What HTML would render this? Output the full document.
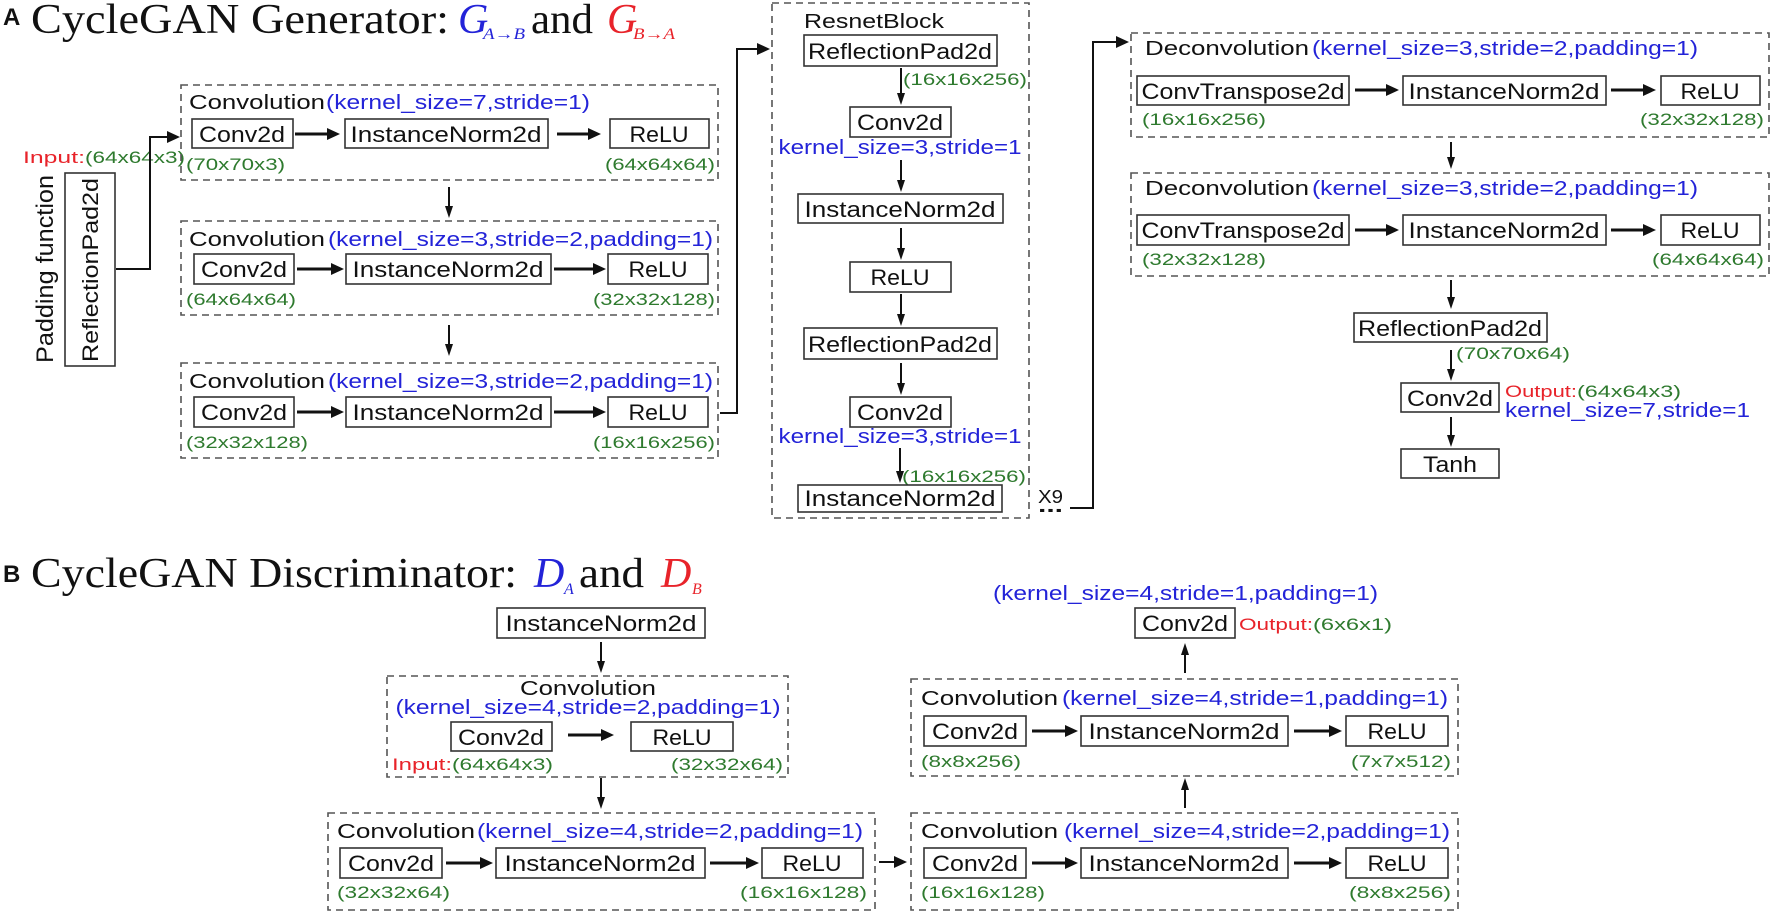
<!DOCTYPE html>
<html><head><meta charset="utf-8"><style>
html,body{margin:0;padding:0;background:#fff;}
svg{display:block;}
.s{font-family:"Liberation Sans","DejaVu Sans",sans-serif;}
.t{font-family:"Liberation Serif",serif;}
.bx{fill:#fff;stroke:#333;stroke-width:1.6;}
.ds{fill:none;stroke:#555;stroke-width:1.6;stroke-dasharray:7,5;}
.ln{stroke:#111;stroke-width:2;fill:none;}
.th{stroke:#111;stroke-width:3;}
.bk{fill:#111;font-size:22px;}
.lb{fill:#111;font-size:20px;}
.bl{fill:#2323d8;font-size:20px;}
.gr{fill:#2e7a2e;font-size:17px;}
.rd{fill:#e8232a;font-size:17px;}
</style></head><body>
<svg width="1772" height="913" viewBox="0 0 1772 913" xmlns="http://www.w3.org/2000/svg">
<defs>
<g id="ah"><polygon points="0,0 -13,-6 -13,6" fill="#111"/></g>
</defs>

<!-- Title A -->
<text x="3" y="25" class="s" font-size="24" font-weight="bold" fill="#111">A</text>
<text x="31" y="33" class="t" font-size="42" fill="#111" textLength="418" lengthAdjust="spacingAndGlyphs">CycleGAN Generator:</text>
<text x="458" y="33" class="t" font-size="42" font-style="italic" fill="#2323d8">G</text>
<text x="483" y="39" class="t" font-size="16" font-style="italic" fill="#2323d8" textLength="42" lengthAdjust="spacingAndGlyphs">A→B</text>
<text x="531" y="33" class="t" font-size="42" fill="#111" textLength="62" lengthAdjust="spacingAndGlyphs">and</text>
<text x="607" y="33" class="t" font-size="42" font-style="italic" fill="#e8232a">G</text>
<text x="633" y="39" class="t" font-size="16" font-style="italic" fill="#e8232a" textLength="42" lengthAdjust="spacingAndGlyphs">B→A</text>

<!-- Padding function -->
<text transform="translate(53,269) rotate(-90)" text-anchor="middle" class="s" font-size="24" fill="#111" textLength="188" lengthAdjust="spacingAndGlyphs">Padding function</text>
<rect x="65" y="173" width="50" height="193" class="bx"/>
<text transform="translate(98,270) rotate(-90)" text-anchor="middle" class="s bk" textLength="184" lengthAdjust="spacingAndGlyphs">ReflectionPad2d</text>
<text x="23" y="163" class="s rd" textLength="62" lengthAdjust="spacingAndGlyphs">Input:</text>
<text x="85" y="163" class="s gr" textLength="100" lengthAdjust="spacingAndGlyphs">(64x64x3)</text>
<polyline points="116,269 150,269 150,137 168,137" class="ln"/>
<use href="#ah" x="180" y="137"/>

<!-- G1 -->
<rect x="181" y="85" width="537" height="95" class="ds"/>
<text x="189" y="109" class="s lb" textLength="136" lengthAdjust="spacingAndGlyphs">Convolution</text>
<text x="326" y="109" class="s bl" textLength="264" lengthAdjust="spacingAndGlyphs">(kernel_size=7,stride=1)</text>
<rect x="192" y="119" width="101" height="29" class="bx"/><text x="242" y="142" text-anchor="middle" class="s bk" textLength="86" lengthAdjust="spacingAndGlyphs">Conv2d</text>
<rect x="345" y="119" width="203" height="29" class="bx"/><text x="446" y="142" text-anchor="middle" class="s bk" textLength="191" lengthAdjust="spacingAndGlyphs">InstanceNorm2d</text>
<rect x="610" y="119" width="99" height="29" class="bx"/><text x="659" y="142" text-anchor="middle" class="s bk" textLength="59" lengthAdjust="spacingAndGlyphs">ReLU</text>
<line x1="295" y1="134" x2="330" y2="134" class="th"/><use href="#ah" x="340" y="134"/>
<line x1="557" y1="134" x2="591" y2="134" class="th"/><use href="#ah" x="601" y="134"/>
<text x="186" y="170" class="s gr" textLength="99" lengthAdjust="spacingAndGlyphs">(70x70x3)</text>
<text x="715" y="170" text-anchor="end" class="s gr" textLength="110" lengthAdjust="spacingAndGlyphs">(64x64x64)</text>
<line x1="449" y1="187" x2="449" y2="209" class="ln" stroke-width="1.6"/><polygon points="449,218 445,206 453,206" fill="#111"/>

<!-- G2 -->
<rect x="181" y="221" width="537" height="94" class="ds"/>
<text x="189" y="246" class="s lb" textLength="136" lengthAdjust="spacingAndGlyphs">Convolution</text>
<text x="328" y="246" class="s bl" textLength="385" lengthAdjust="spacingAndGlyphs">(kernel_size=3,stride=2,padding=1)</text>
<rect x="194" y="254" width="100" height="30" class="bx"/><text x="244" y="277" text-anchor="middle" class="s bk" textLength="86" lengthAdjust="spacingAndGlyphs">Conv2d</text>
<rect x="346" y="254" width="205" height="30" class="bx"/><text x="448" y="277" text-anchor="middle" class="s bk" textLength="191" lengthAdjust="spacingAndGlyphs">InstanceNorm2d</text>
<rect x="608" y="254" width="100" height="30" class="bx"/><text x="658" y="277" text-anchor="middle" class="s bk" textLength="59" lengthAdjust="spacingAndGlyphs">ReLU</text>
<line x1="297" y1="269" x2="333" y2="269" class="th"/><use href="#ah" x="344" y="269"/>
<line x1="554" y1="269" x2="595" y2="269" class="th"/><use href="#ah" x="606" y="269"/>
<text x="186" y="305" class="s gr" textLength="110" lengthAdjust="spacingAndGlyphs">(64x64x64)</text>
<text x="715" y="305" text-anchor="end" class="s gr" textLength="122" lengthAdjust="spacingAndGlyphs">(32x32x128)</text>
<line x1="449" y1="325" x2="449" y2="347" class="ln" stroke-width="1.6"/><polygon points="449,356 445,344 453,344" fill="#111"/>

<!-- G3 -->
<rect x="181" y="363" width="537" height="95" class="ds"/>
<text x="189" y="388" class="s lb" textLength="136" lengthAdjust="spacingAndGlyphs">Convolution</text>
<text x="328" y="388" class="s bl" textLength="385" lengthAdjust="spacingAndGlyphs">(kernel_size=3,stride=2,padding=1)</text>
<rect x="194" y="397" width="100" height="30" class="bx"/><text x="244" y="420" text-anchor="middle" class="s bk" textLength="86" lengthAdjust="spacingAndGlyphs">Conv2d</text>
<rect x="346" y="397" width="205" height="30" class="bx"/><text x="448" y="420" text-anchor="middle" class="s bk" textLength="191" lengthAdjust="spacingAndGlyphs">InstanceNorm2d</text>
<rect x="608" y="397" width="100" height="30" class="bx"/><text x="658" y="420" text-anchor="middle" class="s bk" textLength="59" lengthAdjust="spacingAndGlyphs">ReLU</text>
<line x1="297" y1="412" x2="333" y2="412" class="th"/><use href="#ah" x="344" y="412"/>
<line x1="554" y1="412" x2="595" y2="412" class="th"/><use href="#ah" x="606" y="412"/>
<text x="186" y="448" class="s gr" textLength="122" lengthAdjust="spacingAndGlyphs">(32x32x128)</text>
<text x="715" y="448" text-anchor="end" class="s gr" textLength="122" lengthAdjust="spacingAndGlyphs">(16x16x256)</text>
<polyline points="720,413 737,413 737,49 758,49" class="ln"/><use href="#ah" x="770" y="49"/>

<!-- Resnet -->
<rect x="772" y="3" width="257" height="515" class="ds"/>
<text x="804" y="28" class="s lb" textLength="140" lengthAdjust="spacingAndGlyphs">ResnetBlock</text>
<rect x="804" y="35" width="193" height="31" class="bx"/><text x="900" y="59" text-anchor="middle" class="s bk" textLength="184" lengthAdjust="spacingAndGlyphs">ReflectionPad2d</text>
<line x1="901" y1="68" x2="901" y2="96" class="ln" stroke-width="1.6"/><polygon points="901,105 897,93 905,93" fill="#111"/>
<text x="903" y="85" class="s gr" textLength="124" lengthAdjust="spacingAndGlyphs">(16x16x256)</text>
<rect x="850" y="107" width="101" height="30" class="bx"/><text x="900" y="130" text-anchor="middle" class="s bk" textLength="86" lengthAdjust="spacingAndGlyphs">Conv2d</text>
<text x="900" y="154" text-anchor="middle" class="s bl" textLength="243" lengthAdjust="spacingAndGlyphs">kernel_size=3,stride=1</text>
<line x1="901" y1="160" x2="901" y2="183" class="ln" stroke-width="1.6"/><polygon points="901,192 897,180 905,180" fill="#111"/>
<rect x="798" y="194" width="205" height="29" class="bx"/><text x="900" y="217" text-anchor="middle" class="s bk" textLength="191" lengthAdjust="spacingAndGlyphs">InstanceNorm2d</text>
<line x1="901" y1="228" x2="901" y2="251" class="ln" stroke-width="1.6"/><polygon points="901,260 897,248 905,248" fill="#111"/>
<rect x="850" y="262" width="101" height="30" class="bx"/><text x="900" y="285" text-anchor="middle" class="s bk" textLength="59" lengthAdjust="spacingAndGlyphs">ReLU</text>
<line x1="901" y1="294" x2="901" y2="317" class="ln" stroke-width="1.6"/><polygon points="901,326 897,314 905,314" fill="#111"/>
<rect x="804" y="328" width="193" height="31" class="bx"/><text x="900" y="352" text-anchor="middle" class="s bk" textLength="184" lengthAdjust="spacingAndGlyphs">ReflectionPad2d</text>
<line x1="901" y1="363" x2="901" y2="386" class="ln" stroke-width="1.6"/><polygon points="901,395 897,383 905,383" fill="#111"/>
<rect x="850" y="397" width="101" height="30" class="bx"/><text x="900" y="420" text-anchor="middle" class="s bk" textLength="86" lengthAdjust="spacingAndGlyphs">Conv2d</text>
<text x="900" y="443" text-anchor="middle" class="s bl" textLength="243" lengthAdjust="spacingAndGlyphs">kernel_size=3,stride=1</text>
<line x1="900" y1="448" x2="900" y2="474" class="ln" stroke-width="1.6"/><polygon points="900,483 896,471 904,471" fill="#111"/>
<text x="902" y="482" class="s gr" textLength="124" lengthAdjust="spacingAndGlyphs">(16x16x256)</text>
<rect x="798" y="485" width="204" height="27" class="bx"/><text x="900" y="506" text-anchor="middle" class="s bk" textLength="191" lengthAdjust="spacingAndGlyphs">InstanceNorm2d</text>
<text x="1038" y="503" class="s" font-size="18" fill="#111" textLength="25" lengthAdjust="spacingAndGlyphs">X9</text>
<text x="1038" y="512" class="s" font-size="20" font-weight="bold" fill="#111" textLength="25" lengthAdjust="spacingAndGlyphs">...</text>
<polyline points="1070,508 1093,508 1093,42 1117,42" class="ln"/><use href="#ah" x="1129" y="42"/>

<!-- Deconv1 -->
<rect x="1131" y="33" width="638" height="104" class="ds"/>
<text x="1145" y="55" class="s lb" textLength="164" lengthAdjust="spacingAndGlyphs">Deconvolution</text>
<text x="1312" y="55" class="s bl" textLength="386" lengthAdjust="spacingAndGlyphs">(kernel_size=3,stride=2,padding=1)</text>
<rect x="1137" y="76" width="212" height="29" class="bx"/><text x="1243" y="99" text-anchor="middle" class="s bk" textLength="203" lengthAdjust="spacingAndGlyphs">ConvTranspose2d</text>
<rect x="1403" y="76" width="203" height="29" class="bx"/><text x="1504" y="99" text-anchor="middle" class="s bk" textLength="191" lengthAdjust="spacingAndGlyphs">InstanceNorm2d</text>
<rect x="1661" y="76" width="99" height="29" class="bx"/><text x="1710" y="99" text-anchor="middle" class="s bk" textLength="59" lengthAdjust="spacingAndGlyphs">ReLU</text>
<line x1="1355" y1="90" x2="1388" y2="90" class="th"/><use href="#ah" x="1399" y="90"/>
<line x1="1611" y1="90" x2="1645" y2="90" class="th"/><use href="#ah" x="1656" y="90"/>
<text x="1142" y="125" class="s gr" textLength="124" lengthAdjust="spacingAndGlyphs">(16x16x256)</text>
<text x="1764" y="125" text-anchor="end" class="s gr" textLength="124" lengthAdjust="spacingAndGlyphs">(32x32x128)</text>
<line x1="1451" y1="142" x2="1451" y2="160" class="ln" stroke-width="1.6"/><polygon points="1451,169 1447,157 1455,157" fill="#111"/>

<!-- Deconv2 -->
<rect x="1131" y="173" width="638" height="103" class="ds"/>
<text x="1145" y="195" class="s lb" textLength="164" lengthAdjust="spacingAndGlyphs">Deconvolution</text>
<text x="1312" y="195" class="s bl" textLength="386" lengthAdjust="spacingAndGlyphs">(kernel_size=3,stride=2,padding=1)</text>
<rect x="1137" y="215" width="212" height="30" class="bx"/><text x="1243" y="238" text-anchor="middle" class="s bk" textLength="203" lengthAdjust="spacingAndGlyphs">ConvTranspose2d</text>
<rect x="1403" y="215" width="203" height="30" class="bx"/><text x="1504" y="238" text-anchor="middle" class="s bk" textLength="191" lengthAdjust="spacingAndGlyphs">InstanceNorm2d</text>
<rect x="1661" y="215" width="99" height="30" class="bx"/><text x="1710" y="238" text-anchor="middle" class="s bk" textLength="59" lengthAdjust="spacingAndGlyphs">ReLU</text>
<line x1="1355" y1="230" x2="1388" y2="230" class="th"/><use href="#ah" x="1399" y="230"/>
<line x1="1611" y1="230" x2="1645" y2="230" class="th"/><use href="#ah" x="1656" y="230"/>
<text x="1142" y="265" class="s gr" textLength="124" lengthAdjust="spacingAndGlyphs">(32x32x128)</text>
<text x="1764" y="265" text-anchor="end" class="s gr" textLength="112" lengthAdjust="spacingAndGlyphs">(64x64x64)</text>
<line x1="1451" y1="280" x2="1451" y2="300" class="ln" stroke-width="1.6"/><polygon points="1451,309 1447,297 1455,297" fill="#111"/>

<rect x="1354" y="313" width="193" height="29" class="bx"/><text x="1450" y="336" text-anchor="middle" class="s bk" textLength="184" lengthAdjust="spacingAndGlyphs">ReflectionPad2d</text>
<line x1="1451" y1="350" x2="1451" y2="372" class="ln" stroke-width="1.6"/><polygon points="1451,381 1447,369 1455,369" fill="#111"/>
<text x="1456" y="359" class="s gr" textLength="114" lengthAdjust="spacingAndGlyphs">(70x70x64)</text>
<rect x="1401" y="383" width="98" height="29" class="bx"/><text x="1450" y="406" text-anchor="middle" class="s bk" textLength="86" lengthAdjust="spacingAndGlyphs">Conv2d</text>
<text x="1505" y="397" class="s rd" textLength="72" lengthAdjust="spacingAndGlyphs">Output:</text>
<text x="1577" y="397" class="s gr" textLength="104" lengthAdjust="spacingAndGlyphs">(64x64x3)</text>
<text x="1505" y="417" class="s bl" textLength="245" lengthAdjust="spacingAndGlyphs">kernel_size=7,stride=1</text>
<line x1="1451" y1="417" x2="1451" y2="438" class="ln" stroke-width="1.6"/><polygon points="1451,447 1447,435 1455,435" fill="#111"/>
<rect x="1401" y="449" width="98" height="29" class="bx"/><text x="1450" y="472" text-anchor="middle" class="s bk" textLength="54" lengthAdjust="spacingAndGlyphs">Tanh</text>

<!-- Title B -->
<text x="3" y="582" class="s" font-size="24" font-weight="bold" fill="#111">B</text>
<text x="31" y="587" class="t" font-size="42" fill="#111" textLength="486" lengthAdjust="spacingAndGlyphs">CycleGAN Discriminator:</text>
<text x="534" y="587" class="t" font-size="42" font-style="italic" fill="#2323d8">D</text>
<text x="564" y="594" class="t" font-size="16" font-style="italic" fill="#2323d8">A</text>
<text x="579" y="587" class="t" font-size="42" fill="#111" textLength="65" lengthAdjust="spacingAndGlyphs">and</text>
<text x="661" y="587" class="t" font-size="42" font-style="italic" fill="#e8232a">D</text>
<text x="692" y="594" class="t" font-size="16" font-style="italic" fill="#e8232a">B</text>

<!-- Disc top -->
<rect x="497" y="608" width="208" height="30" class="bx"/><text x="601" y="631" text-anchor="middle" class="s bk" textLength="191" lengthAdjust="spacingAndGlyphs">InstanceNorm2d</text>
<line x1="601" y1="642" x2="601" y2="664" class="ln" stroke-width="1.6"/><polygon points="601,673 597,661 605,661" fill="#111"/>
<rect x="387" y="676" width="401" height="101" class="ds"/>
<text x="588" y="695" text-anchor="middle" class="s lb" textLength="136" lengthAdjust="spacingAndGlyphs">Convolution</text>
<text x="588" y="714" text-anchor="middle" class="s bl" textLength="385" lengthAdjust="spacingAndGlyphs">(kernel_size=4,stride=2,padding=1)</text>
<rect x="451" y="722" width="101" height="29" class="bx"/><text x="501" y="745" text-anchor="middle" class="s bk" textLength="86" lengthAdjust="spacingAndGlyphs">Conv2d</text>
<line x1="568" y1="735" x2="603" y2="735" class="th"/><use href="#ah" x="614" y="735"/>
<rect x="631" y="722" width="102" height="29" class="bx"/><text x="682" y="745" text-anchor="middle" class="s bk" textLength="59" lengthAdjust="spacingAndGlyphs">ReLU</text>
<text x="392" y="770" class="s rd" textLength="60" lengthAdjust="spacingAndGlyphs">Input:</text>
<text x="452" y="770" class="s gr" textLength="101" lengthAdjust="spacingAndGlyphs">(64x64x3)</text>
<text x="783" y="770" text-anchor="end" class="s gr" textLength="112" lengthAdjust="spacingAndGlyphs">(32x32x64)</text>
<line x1="601" y1="778" x2="601" y2="800" class="ln" stroke-width="1.6"/><polygon points="601,809 597,797 605,797" fill="#111"/>

<!-- D2 -->
<rect x="328" y="813" width="547" height="97" class="ds"/>
<text x="337" y="838" class="s lb" textLength="138" lengthAdjust="spacingAndGlyphs">Convolution</text>
<text x="477" y="838" class="s bl" textLength="386" lengthAdjust="spacingAndGlyphs">(kernel_size=4,stride=2,padding=1)</text>
<rect x="340" y="848" width="102" height="30" class="bx"/><text x="391" y="871" text-anchor="middle" class="s bk" textLength="86" lengthAdjust="spacingAndGlyphs">Conv2d</text>
<rect x="496" y="848" width="209" height="30" class="bx"/><text x="600" y="871" text-anchor="middle" class="s bk" textLength="191" lengthAdjust="spacingAndGlyphs">InstanceNorm2d</text>
<rect x="762" y="848" width="101" height="30" class="bx"/><text x="812" y="871" text-anchor="middle" class="s bk" textLength="59" lengthAdjust="spacingAndGlyphs">ReLU</text>
<line x1="446" y1="863" x2="482" y2="863" class="th"/><use href="#ah" x="493" y="863"/>
<line x1="710" y1="863" x2="748" y2="863" class="th"/><use href="#ah" x="759" y="863"/>
<text x="337" y="898" class="s gr" textLength="113" lengthAdjust="spacingAndGlyphs">(32x32x64)</text>
<text x="867" y="898" text-anchor="end" class="s gr" textLength="127" lengthAdjust="spacingAndGlyphs">(16x16x128)</text>
<line x1="879" y1="862" x2="896" y2="862" class="ln"/><use href="#ah" x="907" y="862"/>

<!-- D3 -->
<rect x="911" y="813" width="547" height="97" class="ds"/>
<text x="921" y="838" class="s lb" textLength="137" lengthAdjust="spacingAndGlyphs">Convolution</text>
<text x="1064" y="838" class="s bl" textLength="386" lengthAdjust="spacingAndGlyphs">(kernel_size=4,stride=2,padding=1)</text>
<rect x="924" y="848" width="102" height="30" class="bx"/><text x="975" y="871" text-anchor="middle" class="s bk" textLength="86" lengthAdjust="spacingAndGlyphs">Conv2d</text>
<rect x="1081" y="848" width="207" height="30" class="bx"/><text x="1184" y="871" text-anchor="middle" class="s bk" textLength="191" lengthAdjust="spacingAndGlyphs">InstanceNorm2d</text>
<rect x="1346" y="848" width="102" height="30" class="bx"/><text x="1397" y="871" text-anchor="middle" class="s bk" textLength="59" lengthAdjust="spacingAndGlyphs">ReLU</text>
<line x1="1032" y1="863" x2="1067" y2="863" class="th"/><use href="#ah" x="1078" y="863"/>
<line x1="1294" y1="863" x2="1331" y2="863" class="th"/><use href="#ah" x="1342" y="863"/>
<text x="921" y="898" class="s gr" textLength="124" lengthAdjust="spacingAndGlyphs">(16x16x128)</text>
<text x="1451" y="898" text-anchor="end" class="s gr" textLength="102" lengthAdjust="spacingAndGlyphs">(8x8x256)</text>
<line x1="1185" y1="808" x2="1185" y2="788" class="ln" stroke-width="1.6"/><polygon points="1185,778 1181,790 1189,790" fill="#111"/>

<!-- D4 -->
<rect x="911" y="679" width="547" height="97" class="ds"/>
<text x="921" y="705" class="s lb" textLength="137" lengthAdjust="spacingAndGlyphs">Convolution</text>
<text x="1062" y="705" class="s bl" textLength="386" lengthAdjust="spacingAndGlyphs">(kernel_size=4,stride=1,padding=1)</text>
<rect x="924" y="716" width="102" height="30" class="bx"/><text x="975" y="739" text-anchor="middle" class="s bk" textLength="86" lengthAdjust="spacingAndGlyphs">Conv2d</text>
<rect x="1081" y="716" width="207" height="30" class="bx"/><text x="1184" y="739" text-anchor="middle" class="s bk" textLength="191" lengthAdjust="spacingAndGlyphs">InstanceNorm2d</text>
<rect x="1346" y="716" width="102" height="30" class="bx"/><text x="1397" y="739" text-anchor="middle" class="s bk" textLength="59" lengthAdjust="spacingAndGlyphs">ReLU</text>
<line x1="1032" y1="731" x2="1067" y2="731" class="th"/><use href="#ah" x="1078" y="731"/>
<line x1="1294" y1="731" x2="1331" y2="731" class="th"/><use href="#ah" x="1342" y="731"/>
<text x="921" y="767" class="s gr" textLength="100" lengthAdjust="spacingAndGlyphs">(8x8x256)</text>
<text x="1451" y="767" text-anchor="end" class="s gr" textLength="100" lengthAdjust="spacingAndGlyphs">(7x7x512)</text>
<line x1="1185" y1="673" x2="1185" y2="653" class="ln" stroke-width="1.6"/><polygon points="1185,643 1181,655 1189,655" fill="#111"/>

<!-- final conv -->
<text x="993" y="600" class="s bl" textLength="385" lengthAdjust="spacingAndGlyphs">(kernel_size=4,stride=1,padding=1)</text>
<rect x="1135" y="608" width="100" height="30" class="bx"/><text x="1185" y="631" text-anchor="middle" class="s bk" textLength="86" lengthAdjust="spacingAndGlyphs">Conv2d</text>
<text x="1239" y="630" class="s rd" textLength="74" lengthAdjust="spacingAndGlyphs">Output:</text>
<text x="1313" y="630" class="s gr" textLength="79" lengthAdjust="spacingAndGlyphs">(6x6x1)</text>
</svg>
</body></html>
